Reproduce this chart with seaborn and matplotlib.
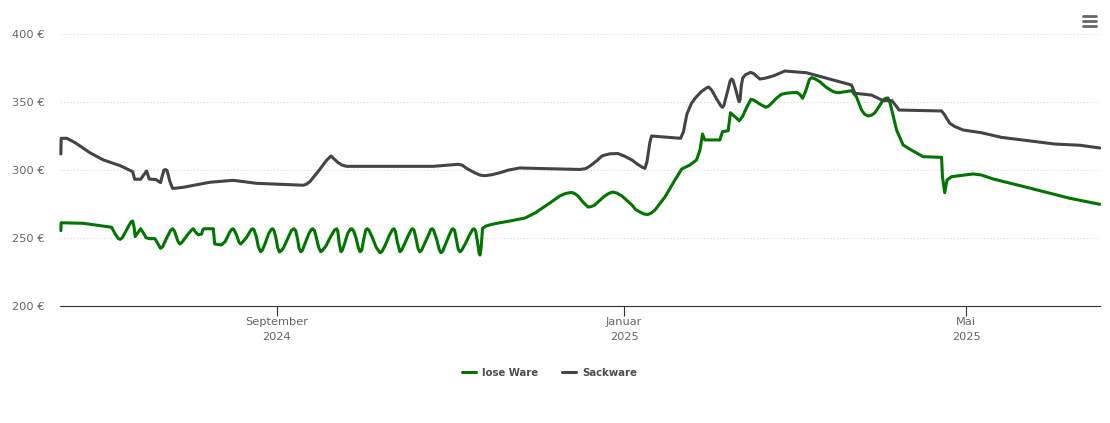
import matplotlib
matplotlib.use('Agg')

import pandas as pd
import seaborn as sns
import matplotlib.pyplot as plt
from matplotlib.lines import Line2D

# days since the first day of the chart, prices in EUR
LOSE_DAYS = [
    0.3, 0.4, 8.2, 18.1, 19.5, 20.5, 21.1, 21.8, 22.8, 24, 25, 25.5, 26, 26.4, 27, 28.3, 29.2, 30.2, 31.5, 33.3,
    34, 35.3, 36, 37.4, 38.8, 39.5, 40.2, 41.4, 42.1, 42.8, 44.8, 46.3, 46.8, 47.5, 48.5, 49.7, 50.1, 50.5, 53.8, 54.3,
    56.7, 58, 59.5, 60.1, 60.6, 61.1, 61.9, 62.8, 63.4, 64,
    65.5, 66.6, 67.1, 67.6, 68.1, 68.9, 69.6, 70.4, 71,
    72, 73.2, 74.1, 74.6, 75.1, 75.8, 76.4, 77, 77.6,
    78.5, 80, 81.2, 82.1, 82.7, 83.4, 83.9, 84.5, 85.1,
    86, 87.4, 88.2, 88.7, 89.3, 90, 90.8, 91.5, 92.1,
    93.3, 95, 96.3, 97.1, 97.5, 98, 98.6, 99.1,
    99.9, 101, 101.9, 102.4, 103, 103.9, 104.7, 105.3, 105.9,
    106.6, 107.3, 107.8, 108.4, 109.5, 111, 112.3, 113,
    114.2, 115.6, 116.7, 117.2, 117.7, 118.4, 119.3, 119.9,
    121, 122.4, 123.3, 123.8, 124.3, 125, 125.7, 126.3, 126.9,
    128, 129.4, 130.1, 130.6, 131.1, 132.2, 133.1, 133.7, 134.3,
    135.4, 136.8, 137.5, 138, 138.5, 139.1, 139.8, 140.4, 141,
    142.3, 143.8, 144.8, 145.3, 145.9, 146.6, 147.1, 147.4, 147.8, 148.3, 149.5, 151.5, 154.4,
    157.9, 163.2, 166.7, 171.9, 175.4, 177.5, 179.6, 180.8, 181.8, 183.5, 185.3, 186.3, 187.7,
    189.5, 191.2, 192.8, 194, 195.5, 197.2, 199, 200.7, 202, 203.5, 205, 206.3, 207.5, 208.8,
    212.3, 215.8, 218.2, 221.1, 223.4, 224.6, 225.5, 226.3, 231.6, 232.5, 234.5, 235.3, 238.4, 239.5,
    241, 242.5, 243.6, 245.5, 247.7, 248.7, 249.7, 251.3, 253.2, 255.5, 258.5, 259.7, 260.6, 261.7, 263, 263.8,
    265, 266.7, 268.8, 270.8, 272, 273.1, 275.5, 277.8, 279.5, 281.3, 282.4, 283.6, 284.8, 286, 287.4, 288.9, 289.9,
    290.6, 291.2, 291.5, 293.6, 295.9, 298.2, 302.9, 309.4, 309.7, 310.5, 311.3, 312.9, 320.5, 323.4, 327.5, 339.2,
    354.4, 364.9,
]
LOSE_EUR = [
    255.4, 261.2, 260.8, 257.9, 252.5, 249.6, 249, 250, 253.7, 258.5, 262, 262.5, 258, 251, 253, 256.8, 254, 250.2, 249.5, 249.5,
    247, 242.4, 243.5, 249.8, 255.6, 256.8, 255, 247.5, 245.6, 246.8, 252.5, 256.2, 256.8, 254.5, 252.4, 252.9, 256, 256.8, 256.8, 245.6,
    244.9, 247.5, 254, 256, 256.8, 256, 252.5, 247, 245.6, 246.8,
    250.5, 254.5, 256.2, 256.8, 256, 251, 243.5, 239.9, 241,
    246, 253, 256.2, 256.8, 255.5, 250, 243, 239.7, 240.5,
    243, 250, 255.5, 256.8, 255.5, 249, 242.5, 239.9, 241,
    246, 253.5, 256.2, 256.8, 255.5, 250, 243, 239.9, 240.8,
    244, 251, 255.8, 256.8, 255, 246, 239.9, 241,
    246, 253.5, 256.4, 256.8, 255.5, 250, 243, 239.9, 241,
    249, 255.8, 256.8, 255.8, 251, 243, 239.2, 240,
    245, 252, 256.2, 256.8, 255, 247, 239.9, 241,
    246, 252.5, 256.2, 256.8, 255.5, 249, 242, 239.9, 241,
    246, 252.5, 256.2, 256.8, 255.8, 249, 241.5, 239.2, 240.2,
    246, 253, 256.2, 256.8, 255.5, 249, 241.5, 239.9, 241,
    246, 252.5, 256.2, 256.8, 255, 246, 239, 237.5, 243, 257.1, 258.8, 260, 261.2,
    262.5, 264.7, 268.4, 275.7, 280.9, 282.8, 283.5, 282.5, 280.9, 276.5, 272.8, 273, 274.3,
    277.8, 280.9, 283, 283.8, 283, 280.9, 277.5, 274.3, 271, 269.1, 267.6, 267.3, 268.3, 270.6,
    280.1, 292.6, 300.7, 303.7, 307.4, 314.7, 326.5, 322.1, 322.1, 328.2, 328.9, 342.1, 336.3, 339.2,
    346, 352, 351.3, 348.6, 346.1, 347, 349, 352.5, 355.7, 356.6, 357.1, 355.5, 352.7, 358, 366.5, 367.9,
    367, 364.9, 361, 358.3, 357.2, 356.8, 357.6, 358.3, 353.9, 344.1, 341, 339.7, 340.3, 342.1, 346.5, 351.5, 352.8,
    352.9, 350, 347.8, 329.4, 318.4, 315.4, 309.8, 309.3, 295.1, 283.3, 292.6, 295.1, 297.1, 296.3, 293.4, 287.3,
    279.2, 274.8,
]
SACK_DAYS = [
    0.3, 0.4, 2.4, 5.3, 10.5, 15.2, 21.1, 25.5, 26.2, 28.3, 30.4, 31.3, 33.7, 35.3, 35.8, 36.5, 37.1, 37.6,
    38.5, 39.5, 40.5, 43.3, 52.6, 60.8, 69, 77.2, 85.4, 86.6, 87.7, 91, 93.5, 95.1, 96, 97.6, 99, 100.6,
    131, 139.8, 141.2, 142.7, 145.5, 147.5, 149.1, 151.5, 154.4, 157.5, 161.4, 168.4, 182.5, 184.5, 186,
    188.5, 190.2, 191.2, 193, 195.8, 198, 200.7, 202.5, 204.2, 205.3, 206, 207, 207.6, 217.8, 218.8, 220,
    221.6, 223, 225, 227, 227.7, 228.8, 230.5, 232, 232.5, 233, 234.3, 235.2, 235.7, 236.2, 237.3, 238.1, 238.4,
    238.7, 239.1, 239.6, 240.5, 242.4, 243.5, 245.6, 247.5, 250.5, 254.4, 262, 277.8, 279, 284.8,
    288.9, 292, 294.5, 309.4, 310.3, 312.3, 314, 317, 323.4, 330.4, 349.1, 357.9, 364.9,
]
SACK_EUR = [
    311.8, 323.3, 323.3, 320.1, 312.7, 307.4, 303.2, 298.8, 293.2, 293.2, 299.3, 293.4, 292.9, 290.7, 295, 300, 300.3, 299.5,
    292, 286.5, 286.6, 287.3, 291, 292.4, 290.2, 289.5, 288.8, 289.7, 291.4, 300, 307, 310.3, 308.5, 305.4, 303.6, 302.7,
    302.7, 304.2, 303.5, 301.2, 298, 296.2, 295.8, 296.5, 298, 300, 301.5, 301.1, 300.4, 301, 302.9,
    307, 310.3, 311, 311.9, 312.1, 310.3, 307.4, 304.5, 302.2, 301.2, 306, 320, 325, 323.3, 328, 341,
    349, 353, 357.5, 360.5, 361, 358.5, 352, 347, 346.1, 347.5, 358, 365.5, 366.9, 366, 358, 351.5, 350.2,
    352, 362, 367.5, 370, 371.8, 370.8, 366.9, 367.5, 369.3, 372.8, 371.5, 362.5, 356.4, 355.1,
    351, 351, 344.1, 343.4, 341, 334.3, 332, 329.4, 327.4, 324, 319.1, 318.2, 316.2,
]
SERIES_NAMES = ['lose Ware', 'Sackware']
Y_TICKS = [200, 250, 300, 350, 400]
X_TICKS = ['2024-09-01', '2025-01-01', '2025-05-01']
X_LABELS = ['September\n2024', 'Januar\n2025', 'Mai\n2025']
START = pd.Timestamp('2024-06-17')


def to_frame(days, prices, name):
    return pd.DataFrame({
        'date': START + pd.to_timedelta(days, unit='D'),
        'preis': prices,
        'sorte': name,
    })


def main():
    df = pd.concat([
        to_frame(LOSE_DAYS, LOSE_EUR, SERIES_NAMES[0]),
        to_frame(SACK_DAYS, SACK_EUR, SERIES_NAMES[1]),
    ], ignore_index=True)

    sns.set_theme(style='white')
    plt.rcParams['font.family'] = ['DejaVu Sans']

    fig = plt.figure(figsize=(11.1, 4.23), dpi=100)
    ax = fig.add_axes([60 / 1110, 1 - 306 / 423, 1040 / 1110, 272 / 423])

    palette = {SERIES_NAMES[0]: '#007500', SERIES_NAMES[1]: '#434348'}
    sns.lineplot(data=df, x='date', y='preis', hue='sorte', palette=palette,
                 estimator=None, sort=False, linewidth=2.2, ax=ax, legend=False,
                 solid_joinstyle='round', zorder=3, clip_on=False)

    ax.set_xlim(START, START + pd.Timedelta(days=365))
    ax.set_ylim(200, 400)
    ax.set_xlabel('')
    ax.set_ylabel('')

    ax.set_yticks(Y_TICKS)
    ax.set_yticklabels([f'{v} €' for v in Y_TICKS], fontsize=8.2, color='#666666')
    ax.tick_params(axis='y', length=0, pad=10.8)
    ax.set_xticks(pd.to_datetime(X_TICKS))
    ax.set_xticklabels(X_LABELS, fontsize=8.2, color='#666666', linespacing=1.6)
    ax.tick_params(axis='x', length=7.2, width=0.8, color='#333333', pad=1, bottom=True)

    ax.grid(axis='y', color='#d8d8d8', linestyle=(0, (1, 2)), linewidth=0.8)
    ax.set_axisbelow(True)
    for side in ['top', 'left', 'right']:
        ax.spines[side].set_visible(False)
    ax.spines['bottom'].set_color('#333333')
    ax.spines['bottom'].set_linewidth(0.8)

    handles = [Line2D([], [], color=palette[n], linewidth=2.2) for n in SERIES_NAMES]
    leg = fig.legend(handles, SERIES_NAMES, loc='center', ncol=2, frameon=False,
                     bbox_to_anchor=(549.5 / 1110, 1 - 373 / 423),
                     handlelength=1.38, handletextpad=0.58, columnspacing=2.35,
                     prop={'size': 7.3, 'weight': 'bold'})
    for txt in leg.get_texts():
        txt.set_color('#4d4d4d')

    # burger menu icon, top right
    for y_px in [16.3, 21.3, 26.3]:
        fig.add_artist(Line2D([1082.5 / 1110, 1095.5 / 1110], [1 - y_px / 423] * 2,
                              color='#666666', linewidth=2.0, solid_capstyle='round'))

    fig.savefig('out.png', dpi=100, facecolor='white')


if __name__ == '__main__':
    main()
